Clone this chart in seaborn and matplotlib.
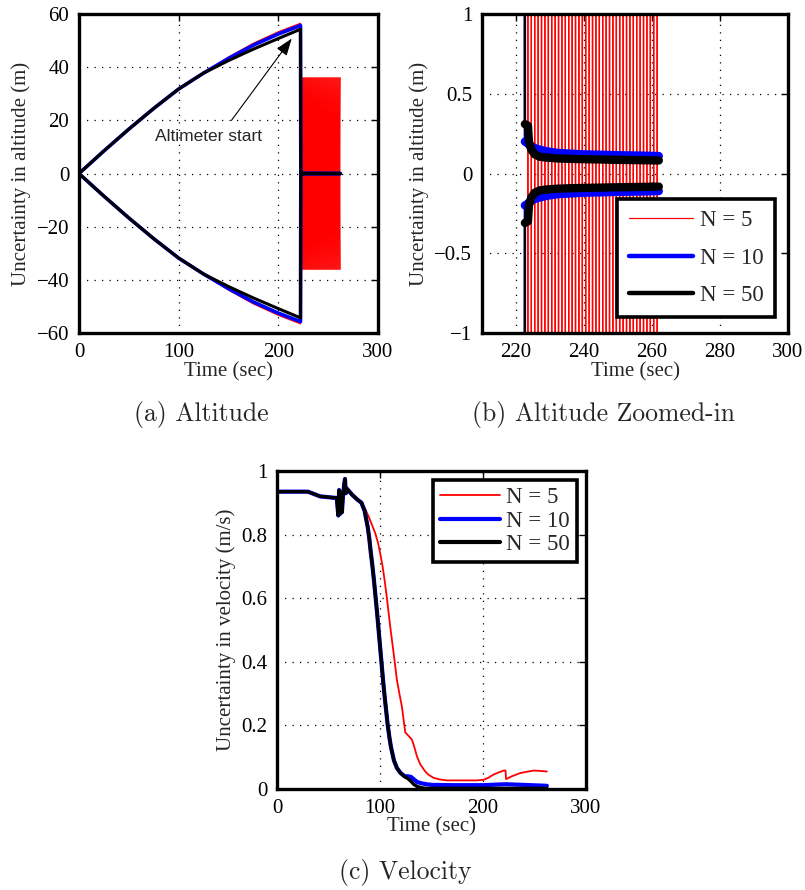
import numpy as np
import matplotlib
matplotlib.use("Agg")
import matplotlib.pyplot as plt
from matplotlib.lines import Line2D
from matplotlib.ticker import FuncFormatter
import seaborn as sns

# ---- altitude uncertainty bounds (m) before the altimeter starts ----
t_alt = [0, 25, 50, 75, 100, 125, 150, 175, 200, 222.3]
alt_red = [0, 8.5, 16.7, 24.5, 31.8, 37.9, 43.8, 49.0, 53.3, 56.5]
alt_blue = [0, 8.5, 16.7, 24.5, 31.8, 37.8, 43.3, 48.3, 52.5, 55.7]
alt_black = [0, 8.5, 16.7, 24.5, 31.8, 37.8, 42.5, 46.8, 50.8, 54.3]

# ---- after altimeter start ----
t_post = [222.6, 223.5, 223.8, 224.5, 225.5, 227, 229, 232, 236, 240, 245, 250, 256, 262]
post_blue = [0.2, 0.19, 0.18, 0.17, 0.16, 0.15, 0.14, 0.13, 0.125, 0.12, 0.118, 0.115, 0.113, 0.11]
post_black = [0.31, 0.3, 0.2, 0.15, 0.12, 0.105, 0.1, 0.095, 0.092, 0.09, 0.088, 0.086, 0.084, 0.082]

# N = 5 oscillates between the bounds every second
red_osc_t = [223, 224, 225, 226, 227, 228, 229, 230, 231, 232,
             233, 234, 235, 236, 237, 238, 239, 240, 241, 242,
             243, 244, 245, 246, 247, 248, 249, 250, 251, 252,
             253, 254, 255, 256, 257, 258, 259, 260, 261, 262]
red_osc = [36, -36, 36, -36, 36, -36, 36, -36, 36, -36,
           36, -36, 36, -36, 36, -36, 36, -36, 36, -36,
           36, -36, 36, -36, 36, -36, 36, -36, 36, -36,
           36, -36, 36, -36, 36, -36, 36, -36, 36, -36]

# ---- velocity uncertainty (m/s) ----
t_vel = [0, 30, 38, 42, 58, 59.5, 60.3, 61.2, 62, 63, 64, 65.3, 66, 66.8, 67.5,
         69, 73, 78, 82, 85, 88, 89.5, 91, 92.5, 94, 95.5, 97, 98.5, 100, 101.5,
         103, 104.5, 106, 107.5, 109, 110.5, 112, 113.5, 116.4, 120, 124, 127, 130, 133,
         136, 140, 145, 150, 170, 200, 222, 262]
vel_black = [0.935, 0.935, 0.925, 0.92, 0.915, 0.86, 0.94, 0.865, 0.93, 0.87, 0.92, 0.96, 0.975, 0.93, 0.945,
             0.94, 0.925, 0.91, 0.9, 0.875, 0.825, 0.79, 0.745, 0.705, 0.66, 0.61, 0.56, 0.505, 0.45, 0.395,
             0.34, 0.29, 0.245, 0.2, 0.165, 0.134, 0.112, 0.09, 0.066, 0.05, 0.038, 0.033, 0.024, 0.014,
             0.008, 0.004, 0.002, 0.002, 0.002, 0.002, 0.002, 0.002]
vel_blue = [0.935, 0.935, 0.925, 0.92, 0.915, 0.86, 0.94, 0.865, 0.93, 0.87, 0.92, 0.96, 0.975, 0.93, 0.945,
            0.94, 0.925, 0.91, 0.9, 0.875, 0.825, 0.79, 0.745, 0.705, 0.66, 0.61, 0.56, 0.505, 0.45, 0.395,
            0.34, 0.29, 0.245, 0.2, 0.165, 0.134, 0.112, 0.09, 0.066, 0.05, 0.04, 0.04, 0.038, 0.03,
            0.022, 0.018, 0.015, 0.013, 0.012, 0.012, 0.015, 0.01]
t_vel_red = [0, 30, 38, 42, 58, 69, 73, 77.6, 82, 86, 88.9, 92, 95.4, 98, 100.2, 102.5, 104.4, 106.7,
             109.9, 113.2, 116.4, 118.8, 121.2, 123, 124.5, 128, 131, 133.5, 135.8, 139, 143.9, 147,
             152, 158, 165, 194, 200.5, 205, 210, 215, 220, 221.8, 222.4, 228, 236, 249, 255, 262]
vel_red = [0.935, 0.935, 0.925, 0.92, 0.915, 0.94, 0.925, 0.914, 0.9, 0.878, 0.857, 0.832, 0.804, 0.775,
           0.741, 0.7, 0.658, 0.6, 0.511, 0.427, 0.343, 0.3, 0.26, 0.215, 0.178, 0.166, 0.155, 0.13,
           0.103, 0.078, 0.055, 0.045, 0.035, 0.03, 0.027, 0.027, 0.029, 0.035, 0.045, 0.052, 0.058,
           0.058, 0.031, 0.04, 0.05, 0.058, 0.057, 0.055]

labels = ["N = 5", "N = 10", "N = 50"]
colors = ["#ff0000", "#0000ff", "#000000"]

sns.set_style("white")
plt.rcParams["font.family"] = ["Liberation Serif", "DejaVu Serif"]
plt.rcParams["axes.unicode_minus"] = True
tick_size = 15


def draw(ax, x, y, color, lw):
    sns.lineplot(x=x, y=y, ax=ax, color=color, linewidth=lw, sort=False,
                 estimator=None, legend=False)


def neg(vals):
    return [-v for v in vals]


def style_axes(ax):
    for sp in ax.spines.values():
        sp.set_linewidth(2.4)
        sp.set_color("black")
    ax.tick_params(direction="in", top=True, right=True, length=5, width=1,
                   labelsize=tick_size, pad=7, colors="black")
    ax.grid(True, linestyle=(0, (1, 5)), color="black", linewidth=0.9)
    ax.set_axisbelow(True)
    fmt = FuncFormatter(lambda v, p: f"{v:g}".replace("-", "\u2212"))
    ax.xaxis.set_major_formatter(fmt)
    ax.yaxis.set_major_formatter(fmt)
    ax.set_xlabel("Time (sec)", fontsize=tick_size, labelpad=0)


def draw_altitude(ax, lw_blue, lw_black, post_lw=None):
    up_red = alt_red + red_osc
    t_red = t_alt + red_osc_t
    draw(ax, t_red, up_red, colors[0], 1.0)
    draw(ax, t_red, neg(up_red), colors[0], 1.0)
    t_full = t_alt + t_post
    for col, pre, post, lw in [(colors[1], alt_blue, post_blue, lw_blue),
                               (colors[2], alt_black, post_black, lw_black)]:
        draw(ax, t_full, pre + post, col, lw)
        draw(ax, t_full, neg(pre + post), col, lw)
        if post_lw:
            draw(ax, t_post, post, col, post_lw)
            draw(ax, t_post, neg(post), col, post_lw)


fig = plt.figure(figsize=(8.05, 8.90), dpi=100)
ax_a = fig.add_axes([0.0981, 0.6258, 0.3714, 0.3584])
ax_b = fig.add_axes([0.5988, 0.6258, 0.3801, 0.3584])
ax_c = fig.add_axes([0.3441, 0.1135, 0.3839, 0.3573])

# (a) Altitude
draw_altitude(ax_a, 2.6, 2.2)
ax_a.set_xlim(0, 300)
ax_a.set_ylim(-60, 60)
ax_a.set_xticks([0, 100, 200, 300])
ax_a.set_yticks([-60, -40, -20, 0, 20, 40, 60])
style_axes(ax_a)
ax_a.set_ylabel("Uncertainty in altitude (m)", fontsize=tick_size)
ax_a.text(130, 14, "Altimeter start", ha="center", va="center",
          family=["Liberation Sans", "DejaVu Sans"], fontsize=12.5)
ax_a.annotate("", xy=(213.5, 50.8), xytext=(153, 20),
              arrowprops=dict(arrowstyle="-|>,head_length=0.7,head_width=0.25",
                              color="black", lw=0.8, mutation_scale=15,
                              shrinkA=0, shrinkB=0))

# (b) Altitude zoomed-in
draw_altitude(ax_b, 1.8, 1.6, post_lw=6)
ax_b.set_xlim(210, 300)
ax_b.set_ylim(-1, 1)
ax_b.set_xticks([220, 240, 260, 280, 300])
ax_b.set_yticks([-1, -0.5, 0, 0.5, 1])
style_axes(ax_b)
ax_b.set_ylabel("Uncertainty in altitude (m)", fontsize=tick_size)
handles_b = [Line2D([], [], color=colors[0], lw=0.9),
             Line2D([], [], color=colors[1], lw=3.2),
             Line2D([], [], color=colors[2], lw=3.2)]
leg_b = ax_b.legend(handles_b, labels, loc="lower right", bbox_to_anchor=(0.958, 0.05),
                    borderaxespad=0, fontsize=16.5, handlelength=2.8, labelspacing=0.7,
                    borderpad=0.5, fancybox=False, framealpha=1, edgecolor="black",
                    handletextpad=0.3)
leg_b.get_frame().set_linewidth(2.6)

# (c) Velocity
draw(ax_c, t_vel_red, vel_red, colors[0], 1.3)
draw(ax_c, t_vel, vel_blue, colors[1], 3.0)
draw(ax_c, t_vel, vel_black, colors[2], 2.4)
ax_c.set_xlim(0, 300)
ax_c.set_ylim(0, 1)
ax_c.set_xticks([0, 100, 200, 300])
ax_c.set_yticks([0, 0.2, 0.4, 0.6, 0.8, 1])
style_axes(ax_c)
ax_c.set_ylabel("Uncertainty in velocity (m/s)", fontsize=tick_size)
handles_c = [Line2D([], [], color=colors[0], lw=1.3),
             Line2D([], [], color=colors[1], lw=3.0),
             Line2D([], [], color=colors[2], lw=3.0)]
leg_c = ax_c.legend(handles_c, labels, loc="upper right", bbox_to_anchor=(0.971, 0.972),
                    borderaxespad=0, fontsize=16.5, handlelength=2.6, labelspacing=0.12,
                    borderpad=0.3, fancybox=False, framealpha=1, edgecolor="black",
                    handletextpad=0.3)
leg_c.get_frame().set_linewidth(2.6)

# captions
cap = dict(ha="center", va="center", family="cmr10", fontsize=18.5)
fig.text(201 / 805, 1 - 414 / 890, "(a) Altitude", **cap)
fig.text(604 / 805, 1 - 414 / 890, "(b) Altitude Zoomed-in", **cap)
fig.text(405 / 805, 1 - 873 / 890, "(c) Velocity", **cap)

fig.savefig("out.png", dpi=100)
